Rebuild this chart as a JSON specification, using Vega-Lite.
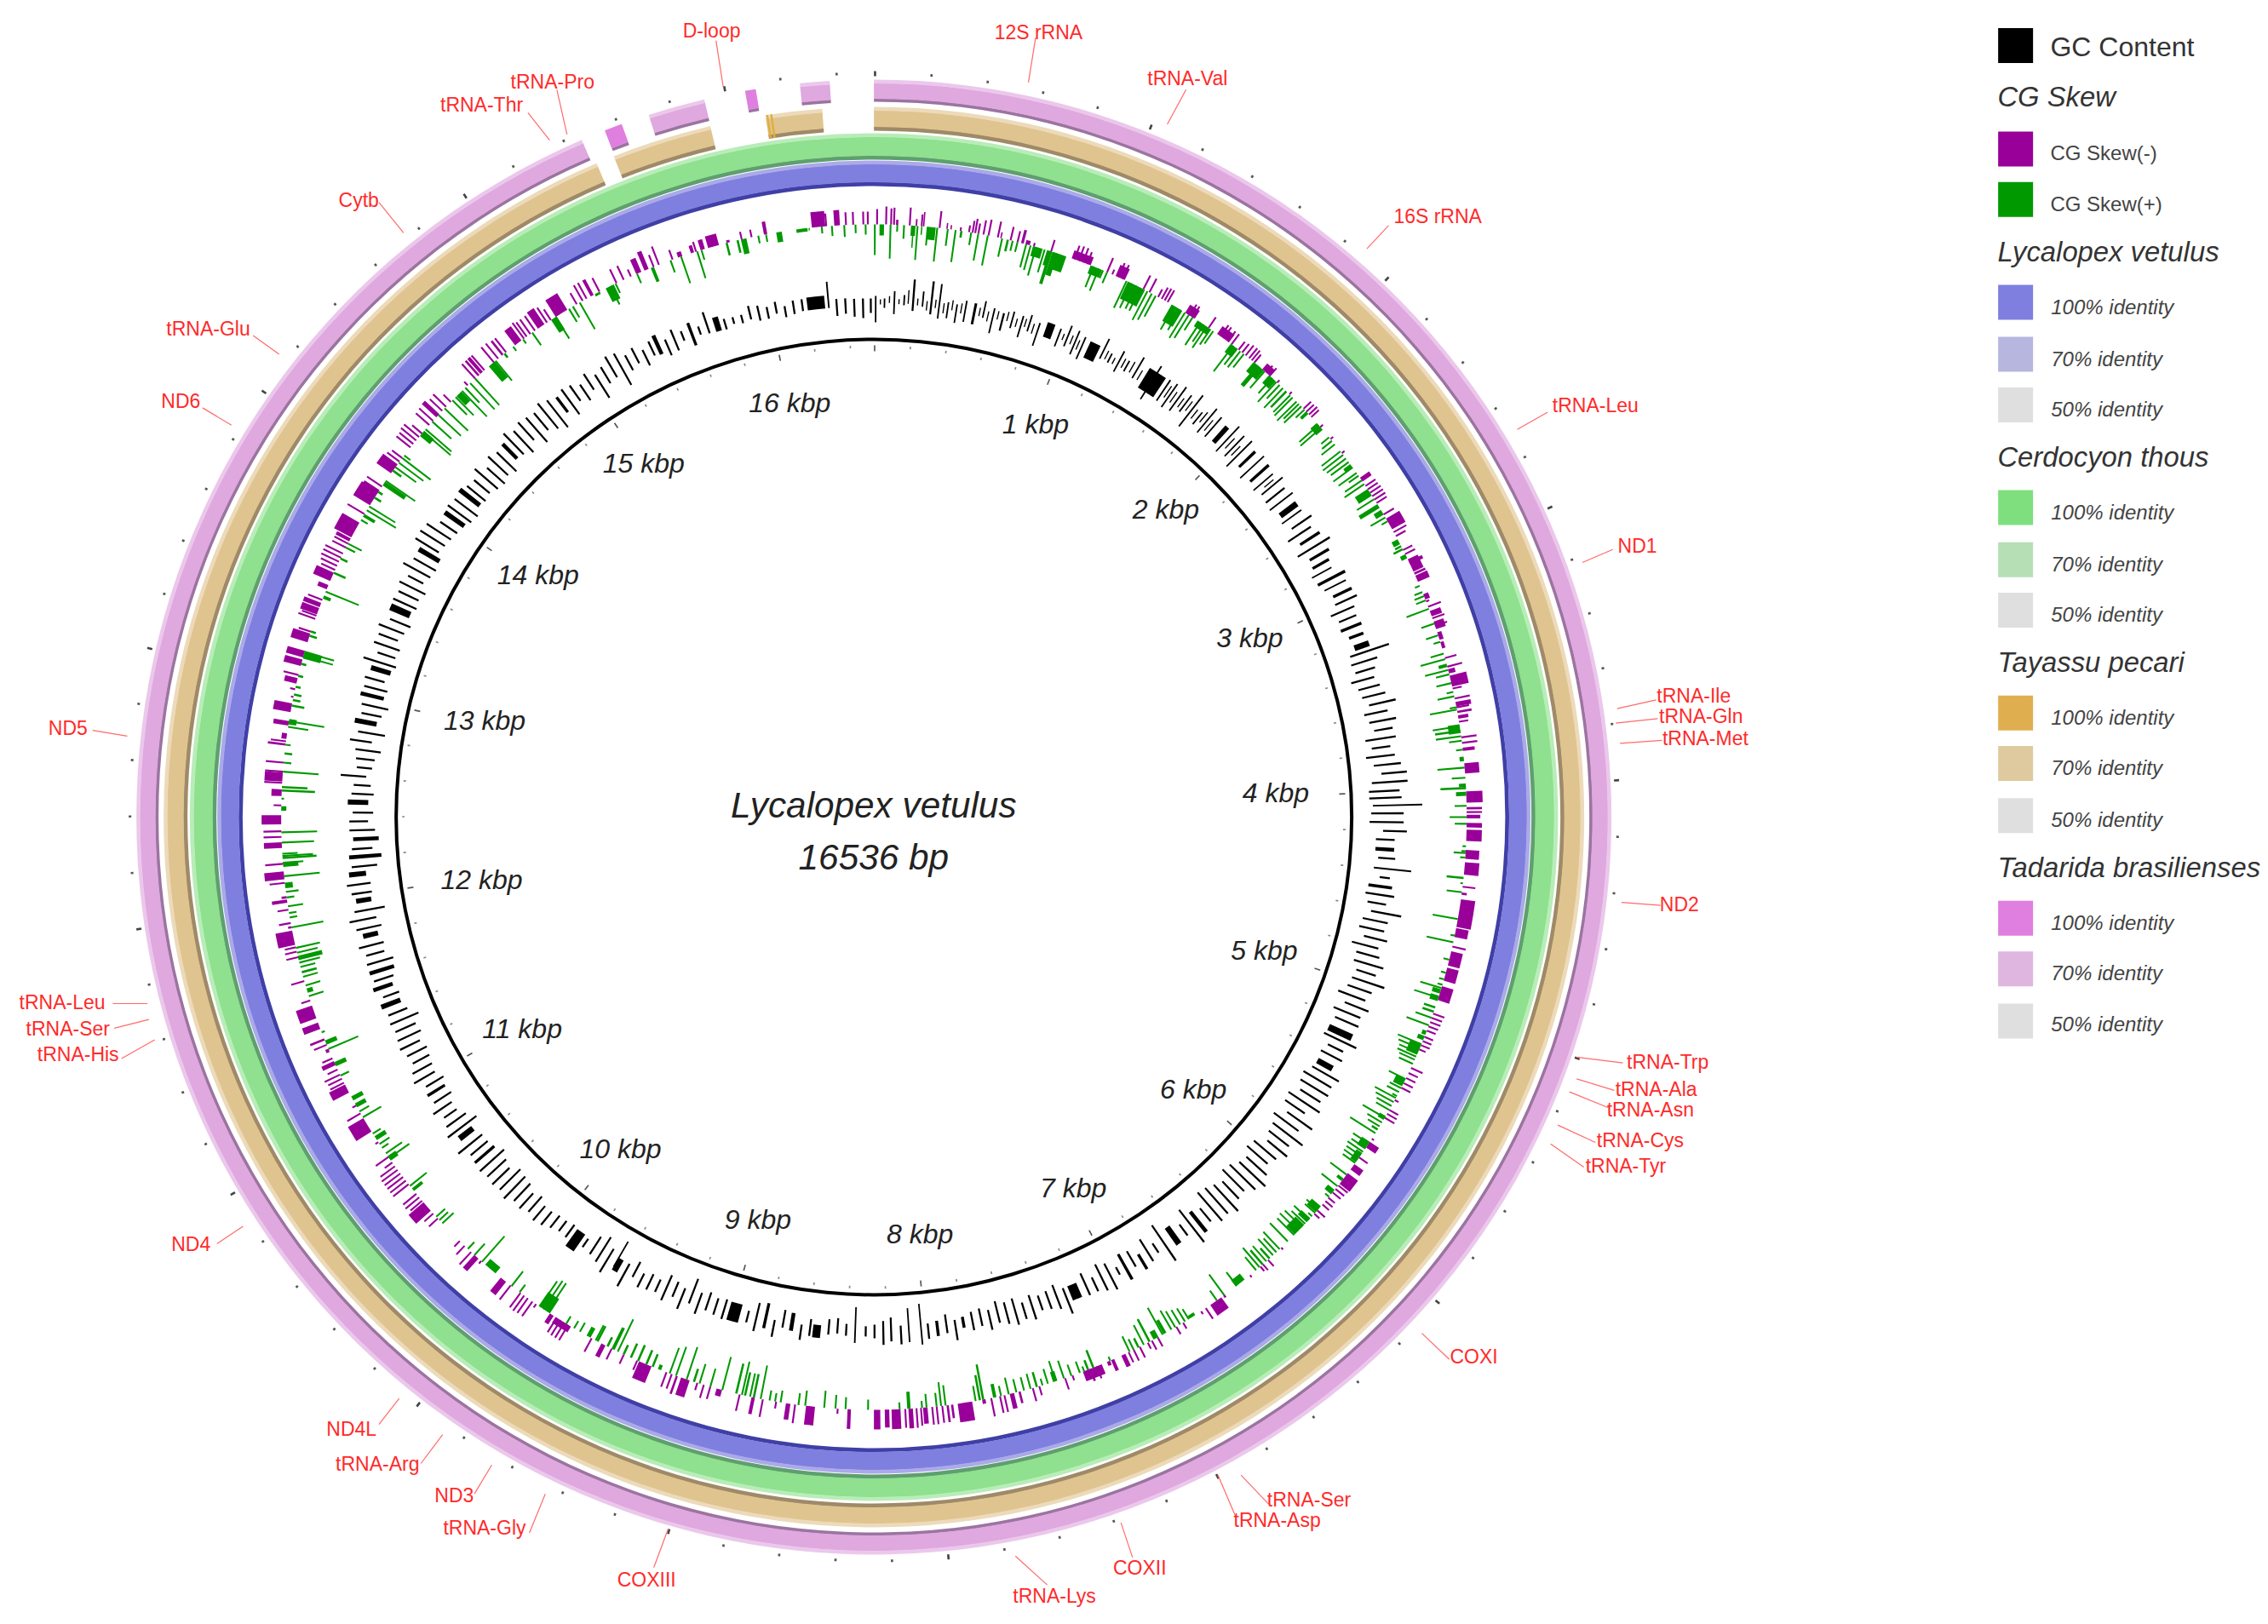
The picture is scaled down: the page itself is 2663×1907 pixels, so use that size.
{"$schema":"https://vega.github.io/schema/vega-lite/v6.json","width":2663,"height":1907,"padding":0,"autosize":{"type":"fit","contains":"padding"},"background":"white","config":{"view":{"stroke":null}},
"datasets":{
"rings":[{"g":"L","s":0,"e":16536},{"g":"C","s":0,"e":16536},{"g":"T","s":0,"e":15480},{"g":"T","s":15549,"e":15924},{"g":"T","s":16132,"e":16344},{"g":"B","s":0,"e":15464},{"g":"B","s":15553,"e":15617},{"g":"B","s":15719,"e":15925},{"g":"B","s":16074,"e":16112},{"g":"B","s":16271,"e":16378}],
"strong":[{"g":"T","s":16135,"e":16143},{"g":"T","s":16150,"e":16158},{"g":"B","s":15553,"e":15617},{"g":"B","s":16074,"e":16112}],
"backbone":[{"s":0,"e":16536}],
"ticks":[{"s":0,"e":8,"k":1},{"s":200,"e":208,"k":0},{"s":400,"e":408,"k":0},{"s":600,"e":608,"k":0},{"s":800,"e":808,"k":0},{"s":1000,"e":1008,"k":1},{"s":1200,"e":1208,"k":0},{"s":1400,"e":1408,"k":0},{"s":1600,"e":1608,"k":0},{"s":1800,"e":1808,"k":0},{"s":2000,"e":2008,"k":1},{"s":2200,"e":2208,"k":0},{"s":2400,"e":2408,"k":0},{"s":2600,"e":2608,"k":0},{"s":2800,"e":2808,"k":0},{"s":3000,"e":3008,"k":1},{"s":3200,"e":3208,"k":0},{"s":3400,"e":3408,"k":0},{"s":3600,"e":3608,"k":0},{"s":3800,"e":3808,"k":0},{"s":4000,"e":4008,"k":1},{"s":4200,"e":4208,"k":0},{"s":4400,"e":4408,"k":0},{"s":4600,"e":4608,"k":0},{"s":4800,"e":4808,"k":0},{"s":5000,"e":5008,"k":1},{"s":5200,"e":5208,"k":0},{"s":5400,"e":5408,"k":0},{"s":5600,"e":5608,"k":0},{"s":5800,"e":5808,"k":0},{"s":6000,"e":6008,"k":1},{"s":6200,"e":6208,"k":0},{"s":6400,"e":6408,"k":0},{"s":6600,"e":6608,"k":0},{"s":6800,"e":6808,"k":0},{"s":7000,"e":7008,"k":1},{"s":7200,"e":7208,"k":0},{"s":7400,"e":7408,"k":0},{"s":7600,"e":7608,"k":0},{"s":7800,"e":7808,"k":0},{"s":8000,"e":8008,"k":1},{"s":8200,"e":8208,"k":0},{"s":8400,"e":8408,"k":0},{"s":8600,"e":8608,"k":0},{"s":8800,"e":8808,"k":0},{"s":9000,"e":9008,"k":1},{"s":9200,"e":9208,"k":0},{"s":9400,"e":9408,"k":0},{"s":9600,"e":9608,"k":0},{"s":9800,"e":9808,"k":0},{"s":10000,"e":10008,"k":1},{"s":10200,"e":10208,"k":0},{"s":10400,"e":10408,"k":0},{"s":10600,"e":10608,"k":0},{"s":10800,"e":10808,"k":0},{"s":11000,"e":11008,"k":1},{"s":11200,"e":11208,"k":0},{"s":11400,"e":11408,"k":0},{"s":11600,"e":11608,"k":0},{"s":11800,"e":11808,"k":0},{"s":12000,"e":12008,"k":1},{"s":12200,"e":12208,"k":0},{"s":12400,"e":12408,"k":0},{"s":12600,"e":12608,"k":0},{"s":12800,"e":12808,"k":0},{"s":13000,"e":13008,"k":1},{"s":13200,"e":13208,"k":0},{"s":13400,"e":13408,"k":0},{"s":13600,"e":13608,"k":0},{"s":13800,"e":13808,"k":0},{"s":14000,"e":14008,"k":1},{"s":14200,"e":14208,"k":0},{"s":14400,"e":14408,"k":0},{"s":14600,"e":14608,"k":0},{"s":14800,"e":14808,"k":0},{"s":15000,"e":15008,"k":1},{"s":15200,"e":15208,"k":0},{"s":15400,"e":15408,"k":0},{"s":15600,"e":15608,"k":0},{"s":15800,"e":15808,"k":0},{"s":16000,"e":16008,"k":1},{"s":16200,"e":16208,"k":0},{"s":16400,"e":16408,"k":0}],
"skew":[
{"s":10,"e":18,"v":-18},{"s":50,"e":58,"v":-21},{"s":72,"e":80,"v":-19},{"s":85,"e":93,"v":-20},{"s":98,"e":108,"v":-6},{"s":155,"e":163,"v":-21},{"s":185,"e":192,"v":-8},{"s":208,"e":216,"v":-14},{"s":218,"e":224,"v":-17},{"s":288,"e":296,"v":-20},{"s":322,"e":328,"v":-7},{"s":340,"e":346,"v":-5},{"s":382,"e":390,"v":-4},{"s":420,"e":428,"v":-8},{"s":436,"e":444,"v":-14},{"s":448,"e":456,"v":-17},{"s":462,"e":470,"v":-12},{"s":485,"e":493,"v":-17},{"s":508,"e":516,"v":-19},{"s":550,"e":558,"v":-19},{"s":565,"e":571,"v":-7},{"s":608,"e":616,"v":-16},{"s":640,"e":648,"v":-13},{"s":660,"e":672,"v":-16},{"s":680,"e":700,"v":-5},{"s":715,"e":723,"v":-4},{"s":795,"e":803,"v":-14},
{"s":0,"e":8,"v":36},{"s":25,"e":45,"v":13},{"s":70,"e":78,"v":40},{"s":100,"e":108,"v":8},{"s":130,"e":138,"v":16},{"s":165,"e":185,"v":12},{"s":172,"e":178,"v":26},{"s":190,"e":198,"v":40},{"s":210,"e":216,"v":10},{"s":240,"e":275,"v":15},{"s":235,"e":243,"v":22},{"s":278,"e":286,"v":40},{"s":325,"e":333,"v":20},{"s":360,"e":368,"v":38},{"s":385,"e":395,"v":8},{"s":430,"e":438,"v":15},{"s":462,"e":470,"v":32},{"s":505,"e":513,"v":36},{"s":570,"e":578,"v":22},{"s":595,"e":605,"v":14},{"s":618,"e":626,"v":12},{"s":640,"e":648,"v":12},{"s":680,"e":688,"v":28},{"s":700,"e":708,"v":30},{"s":715,"e":760,"v":12},{"s":725,"e":733,"v":35},{"s":765,"e":773,"v":28},{"s":780,"e":800,"v":18},{"s":790,"e":805,"v":40},{"s":805,"e":830,"v":28},{"s":812,"e":870,"v":20},
{"s":895,"e":985,"v":-10},{"s":905,"e":913,"v":-17},{"s":925,"e":933,"v":-18},{"s":945,"e":953,"v":-18},{"s":965,"e":973,"v":-15},{"s":985,"e":1040,"v":10},{"s":995,"e":1003,"v":26},{"s":1020,"e":1028,"v":28},{"s":1040,"e":1048,"v":10},{"s":1060,"e":1068,"v":14},{"s":1060,"e":1068,"v":-18},{"s":1085,"e":1093,"v":-6},{"s":1105,"e":1150,"v":-14},{"s":1115,"e":1123,"v":-18},{"s":1135,"e":1143,"v":-18},{"s":1165,"e":1250,"v":22},{"s":1155,"e":1163,"v":35},{"s":1180,"e":1188,"v":32},{"s":1205,"e":1213,"v":30},{"s":1225,"e":1233,"v":30},{"s":1258,"e":1266,"v":38},{"s":1238,"e":1246,"v":-18},{"s":1268,"e":1276,"v":-18},{"s":1312,"e":1320,"v":-10},{"s":1330,"e":1338,"v":-15},{"s":1345,"e":1353,"v":-16},{"s":1360,"e":1368,"v":-16},{"s":1280,"e":1288,"v":35},{"s":1300,"e":1308,"v":28},{"s":1385,"e":1440,"v":22},{"s":1395,"e":1403,"v":32},{"s":1425,"e":1433,"v":28},{"s":1450,"e":1458,"v":35},{"s":1470,"e":1478,"v":32},{"s":1490,"e":1498,"v":18},{"s":1455,"e":1505,"v":-11},{"s":1475,"e":1483,"v":-15},{"s":1490,"e":1498,"v":-15},{"s":1575,"e":1583,"v":-15},{"s":1520,"e":1590,"v":8},{"s":1530,"e":1538,"v":32},{"s":1550,"e":1558,"v":24},{"s":1565,"e":1573,"v":30},{"s":1585,"e":1593,"v":22},{"s":1600,"e":1608,"v":18},{"s":1625,"e":1690,"v":-11},{"s":1640,"e":1648,"v":-16},{"s":1655,"e":1663,"v":-16},{"s":1680,"e":1688,"v":-15},{"s":1700,"e":1708,"v":-15},{"s":1700,"e":1740,"v":12},{"s":1710,"e":1718,"v":38},{"s":1730,"e":1738,"v":24},{"s":1750,"e":1758,"v":24},{"s":1770,"e":1778,"v":20},{"s":1740,"e":1748,"v":-12},{"s":1760,"e":1768,"v":-13},{"s":1780,"e":1788,"v":-15},{"s":1800,"e":1808,"v":-15},{"s":1815,"e":1823,"v":-15},{"s":1830,"e":1838,"v":-12},{"s":1830,"e":1890,"v":14},{"s":1850,"e":1870,"v":30},{"s":1890,"e":1898,"v":26},{"s":1880,"e":1925,"v":-9},{"s":1900,"e":1908,"v":-11},{"s":1920,"e":1928,"v":-12},{"s":1920,"e":1960,"v":12},{"s":1935,"e":1943,"v":24},{"s":1960,"e":1968,"v":32},{"s":1980,"e":1988,"v":22},{"s":2000,"e":2008,"v":32},{"s":2020,"e":2030,"v":26},{"s":2045,"e":2053,"v":28},{"s":2060,"e":2068,"v":30},{"s":2085,"e":2093,"v":32},{"s":1965,"e":1973,"v":-4},{"s":2040,"e":2048,"v":-4},
{"s":2130,"e":2138,"v":-12},{"s":2148,"e":2156,"v":-12},{"s":2165,"e":2173,"v":-13},{"s":2180,"e":2188,"v":-12},{"s":2100,"e":2108,"v":25},{"s":2115,"e":2123,"v":28},{"s":2135,"e":2143,"v":14},{"s":2150,"e":2165,"v":10},{"s":2220,"e":2260,"v":10},{"s":2228,"e":2236,"v":30},{"s":2245,"e":2253,"v":32},{"s":2240,"e":2248,"v":-4},{"s":2300,"e":2308,"v":12},{"s":2320,"e":2328,"v":15},{"s":2340,"e":2348,"v":20},{"s":2310,"e":2318,"v":-4},{"s":2380,"e":2388,"v":28},{"s":2400,"e":2408,"v":30},{"s":2420,"e":2428,"v":28},{"s":2440,"e":2448,"v":26},{"s":2455,"e":2475,"v":10},{"s":2470,"e":2478,"v":28},{"s":2390,"e":2398,"v":-4},{"s":2500,"e":2508,"v":26},{"s":2515,"e":2523,"v":14},{"s":2530,"e":2550,"v":-13},{"s":2570,"e":2578,"v":-14},{"s":2588,"e":2596,"v":-14},{"s":2606,"e":2614,"v":-15},{"s":2624,"e":2632,"v":-15},{"s":2642,"e":2650,"v":-15},{"s":2660,"e":2668,"v":-14},{"s":2590,"e":2625,"v":18},{"s":2560,"e":2568,"v":28},{"s":2540,"e":2548,"v":24},{"s":2640,"e":2648,"v":24},{"s":2670,"e":2690,"v":26},{"s":2700,"e":2725,"v":10},{"s":2735,"e":2743,"v":20},{"s":2755,"e":2763,"v":8},{"s":2720,"e":2728,"v":-14},{"s":2745,"e":2800,"v":-18},{"s":2810,"e":2818,"v":-17},{"s":2830,"e":2838,"v":-13},{"s":2850,"e":2875,"v":8},{"s":2880,"e":2890,"v":8},{"s":2895,"e":2905,"v":12},{"s":2925,"e":2945,"v":7},{"s":2900,"e":2908,"v":-12},{"s":2920,"e":2928,"v":-13},{"s":2950,"e":3010,"v":-13},{"s":2960,"e":2975,"v":-17},{"s":3015,"e":3025,"v":-14},{"s":3030,"e":3060,"v":-15},{"s":3075,"e":3083,"v":6},{"s":3105,"e":3113,"v":10},{"s":3125,"e":3133,"v":12},{"s":3145,"e":3153,"v":12},{"s":3120,"e":3145,"v":-6},{"s":3150,"e":3158,"v":-4},{"s":3185,"e":3193,"v":28},{"s":3175,"e":3183,"v":-16},{"s":3200,"e":3225,"v":-13},{"s":3230,"e":3238,"v":-15},{"s":3250,"e":3285,"v":-12},{"s":3265,"e":3273,"v":-15},{"s":3255,"e":3263,"v":16},{"s":3310,"e":3318,"v":15},{"s":3340,"e":3348,"v":8},{"s":3300,"e":3335,"v":-5},{"s":3345,"e":3375,"v":-4},{"s":3395,"e":3403,"v":16},{"s":3420,"e":3428,"v":30},{"s":3445,"e":3460,"v":10},{"s":3470,"e":3478,"v":28},{"s":3415,"e":3423,"v":-14},{"s":3455,"e":3463,"v":-18},{"s":3470,"e":3490,"v":-8},{"s":3490,"e":3498,"v":16},{"s":3530,"e":3538,"v":18},{"s":3500,"e":3550,"v":-20},{"s":3555,"e":3563,"v":-11},{"s":3590,"e":3598,"v":20},{"s":3570,"e":3578,"v":8},{"s":3600,"e":3608,"v":-18},{"s":3620,"e":3640,"v":-18},{"s":3640,"e":3648,"v":-15},{"s":3650,"e":3658,"v":32},{"s":3640,"e":3648,"v":8},{"s":3660,"e":3670,"v":-17},{"s":3680,"e":3695,"v":-12},{"s":3705,"e":3713,"v":-11},{"s":3720,"e":3760,"v":14},{"s":3725,"e":3733,"v":32},{"s":3745,"e":3755,"v":30},{"s":3770,"e":3778,"v":30},{"s":3790,"e":3798,"v":15},{"s":3775,"e":3783,"v":-18},{"s":3800,"e":3808,"v":-18},{"s":3825,"e":3840,"v":-14},{"s":3830,"e":3838,"v":8},{"s":3865,"e":3885,"v":5},{"s":3910,"e":3918,"v":32},{"s":3895,"e":3940,"v":-17},{"s":3955,"e":3963,"v":16},{"s":3985,"e":4000,"v":8},{"s":4000,"e":4010,"v":30},{"s":4020,"e":4070,"v":-19},{"s":4022,"e":4040,"v":12},{"s":4080,"e":4088,"v":14},{"s":4090,"e":4100,"v":-18},{"s":4108,"e":4116,"v":-18},{"s":4124,"e":4140,"v":-16},{"s":4130,"e":4138,"v":20},{"s":4160,"e":4168,"v":14},{"s":4160,"e":4180,"v":-18},{"s":4190,"e":4240,"v":-18},{"s":4260,"e":4268,"v":4},{"s":4282,"e":4290,"v":5},{"s":4290,"e":4298,"v":14},{"s":4310,"e":4318,"v":6},{"s":4280,"e":4320,"v":-16},{"s":4335,"e":4390,"v":-17},{"s":4400,"e":4410,"v":20},{"s":4425,"e":4433,"v":3},{"s":4440,"e":4448,"v":-15},{"s":4470,"e":4480,"v":-6},{"s":4465,"e":4473,"v":18},{"s":4500,"e":4625,"v":-17},{"s":4630,"e":4670,"v":-15},{"s":4585,"e":4593,"v":30},{"s":4690,"e":4698,"v":32},{"s":4710,"e":4718,"v":-16},{"s":4660,"e":4668,"v":5},{"s":4770,"e":4778,"v":7},{"s":4735,"e":4800,"v":-14},{"s":4810,"e":4870,"v":-14},{"s":4830,"e":4838,"v":6},{"s":4860,"e":4868,"v":6},{"s":4885,"e":4893,"v":6},{"s":4910,"e":4930,"v":10},{"s":4900,"e":4908,"v":26},{"s":4895,"e":4960,"v":-14},{"s":4990,"e":5000,"v":14},{"s":5010,"e":5020,"v":14},{"s":4940,"e":4965,"v":10},{"s":4945,"e":4953,"v":30},
{"s":5040,"e":5048,"v":20},{"s":5020,"e":5028,"v":-14},{"s":5040,"e":5048,"v":-13},{"s":5060,"e":5068,"v":-13},{"s":5080,"e":5088,"v":-12},{"s":5100,"e":5108,"v":-11},{"s":5075,"e":5083,"v":28},{"s":5105,"e":5125,"v":5},{"s":5130,"e":5150,"v":8},{"s":5130,"e":5138,"v":-11},{"s":5150,"e":5158,"v":-11},{"s":5170,"e":5178,"v":-11},{"s":5190,"e":5198,"v":-8},{"s":5170,"e":5220,"v":14},{"s":5165,"e":5173,"v":30},{"s":5185,"e":5193,"v":27},{"s":5205,"e":5213,"v":24},{"s":5225,"e":5233,"v":24},{"s":5240,"e":5248,"v":20},{"s":5260,"e":5268,"v":18},{"s":5280,"e":5288,"v":-15},{"s":5305,"e":5313,"v":-12},{"s":5330,"e":5338,"v":-12},{"s":5355,"e":5363,"v":-12},{"s":5378,"e":5386,"v":-12},{"s":5340,"e":5375,"v":12},{"s":5335,"e":5343,"v":22},{"s":5380,"e":5388,"v":15},{"s":5400,"e":5408,"v":16},{"s":5420,"e":5428,"v":6},{"s":5440,"e":5448,"v":-5},{"s":5430,"e":5438,"v":28},{"s":5450,"e":5458,"v":24},{"s":5470,"e":5478,"v":20},{"s":5490,"e":5498,"v":18},{"s":5490,"e":5498,"v":-12},{"s":5510,"e":5518,"v":-13},{"s":5530,"e":5538,"v":-13},{"s":5525,"e":5545,"v":8},{"s":5530,"e":5538,"v":30},{"s":5555,"e":5563,"v":20},{"s":5575,"e":5583,"v":16},{"s":5590,"e":5600,"v":8},{"s":5610,"e":5618,"v":35},{"s":5640,"e":5648,"v":-3},{"s":5660,"e":5690,"v":-13},{"s":5660,"e":5700,"v":11},{"s":5665,"e":5673,"v":22},{"s":5690,"e":5698,"v":20},{"s":5710,"e":5718,"v":22},{"s":5720,"e":5770,"v":8},{"s":5730,"e":5738,"v":20},{"s":5750,"e":5758,"v":20},{"s":5770,"e":5778,"v":18},{"s":5740,"e":5748,"v":-12},{"s":5780,"e":5810,"v":-13},{"s":5835,"e":5843,"v":24},{"s":5860,"e":5875,"v":8},{"s":5830,"e":5890,"v":-15},{"s":5895,"e":5903,"v":-14},{"s":5915,"e":5923,"v":-13},{"s":5935,"e":5943,"v":-12},{"s":5900,"e":5908,"v":24},{"s":5925,"e":5950,"v":10},{"s":5960,"e":5968,"v":6},{"s":5965,"e":5973,"v":-10},{"s":5985,"e":5993,"v":-11},{"s":6005,"e":6013,"v":-10},{"s":6040,"e":6048,"v":-12},{"s":6060,"e":6068,"v":-8},{"s":6020,"e":6055,"v":14},{"s":6035,"e":6043,"v":18},{"s":6055,"e":6063,"v":16},{"s":6075,"e":6083,"v":6},{"s":6090,"e":6115,"v":14},{"s":6095,"e":6103,"v":24},{"s":6120,"e":6128,"v":22},{"s":6130,"e":6190,"v":14},{"s":6140,"e":6148,"v":28},{"s":6165,"e":6173,"v":30},{"s":6190,"e":6198,"v":28},{"s":6270,"e":6278,"v":-3},{"s":6230,"e":6238,"v":30},{"s":6280,"e":6288,"v":28},{"s":6300,"e":6308,"v":22},{"s":6320,"e":6328,"v":26},{"s":6340,"e":6350,"v":16},{"s":6360,"e":6368,"v":24},{"s":6380,"e":6390,"v":22},{"s":6400,"e":6408,"v":30},{"s":6420,"e":6428,"v":20},{"s":6350,"e":6358,"v":-10},{"s":6380,"e":6388,"v":-9},{"s":6395,"e":6403,"v":-7},{"s":6455,"e":6463,"v":-3},{"s":6490,"e":6540,"v":9},{"s":6530,"e":6538,"v":20},{"s":6600,"e":6608,"v":30},{"s":6640,"e":6648,"v":14},{"s":6620,"e":6680,"v":-15},{"s":6600,"e":6610,"v":-3},{"s":6700,"e":6708,"v":-15},{"s":6725,"e":6733,"v":-4},{"s":6760,"e":6790,"v":4},{"s":6790,"e":6798,"v":14},{"s":6810,"e":6818,"v":18},{"s":6835,"e":6843,"v":20},{"s":6860,"e":6868,"v":22},{"s":6880,"e":6888,"v":26},{"s":6910,"e":6925,"v":18},{"s":6925,"e":6933,"v":36},{"s":6950,"e":6975,"v":10},{"s":6990,"e":7000,"v":30},{"s":6820,"e":6828,"v":-8},{"s":6855,"e":6863,"v":-10},{"s":6950,"e":6958,"v":-12},{"s":6980,"e":6988,"v":-12},{"s":7000,"e":7008,"v":-8},{"s":7020,"e":7028,"v":26},{"s":7045,"e":7055,"v":12},{"s":7070,"e":7078,"v":14},{"s":7090,"e":7098,"v":20},{"s":7070,"e":7078,"v":-14},{"s":7040,"e":7048,"v":-14},{"s":7095,"e":7103,"v":-13},{"s":7115,"e":7135,"v":-15},{"s":7170,"e":7185,"v":-14},{"s":7190,"e":7205,"v":-5},{"s":7185,"e":7193,"v":5},{"s":7265,"e":7275,"v":22},{"s":7290,"e":7300,"v":12},{"s":7230,"e":7320,"v":-12},{"s":7250,"e":7258,"v":-15},{"s":7280,"e":7290,"v":-15},{"s":7330,"e":7338,"v":14},{"s":7310,"e":7318,"v":6},{"s":7370,"e":7378,"v":14},{"s":7405,"e":7413,"v":22},{"s":7440,"e":7460,"v":12},{"s":7445,"e":7453,"v":25},{"s":7480,"e":7488,"v":18},{"s":7505,"e":7513,"v":8},{"s":7400,"e":7408,"v":-14},{"s":7365,"e":7373,"v":-6},
{"s":7530,"e":7540,"v":18},{"s":7560,"e":7568,"v":18},{"s":7590,"e":7598,"v":16},{"s":7625,"e":7633,"v":16},{"s":7660,"e":7668,"v":20},{"s":7695,"e":7703,"v":12},{"s":7720,"e":7735,"v":16},{"s":7775,"e":7785,"v":42},{"s":7790,"e":7800,"v":30},{"s":7810,"e":7818,"v":18},{"s":7520,"e":7528,"v":-11},{"s":7550,"e":7558,"v":-16},{"s":7610,"e":7620,"v":-14},{"s":7640,"e":7660,"v":-18},{"s":7680,"e":7688,"v":-20},{"s":7700,"e":7708,"v":-20},{"s":7740,"e":7748,"v":-22},{"s":7770,"e":7785,"v":-5},{"s":7830,"e":7895,"v":-22},{"s":7915,"e":7925,"v":-16},{"s":7935,"e":7945,"v":-20},{"s":7960,"e":7968,"v":-20},{"s":7985,"e":7993,"v":-21},{"s":8005,"e":8013,"v":-21},{"s":8030,"e":8050,"v":-19},{"s":8055,"e":8063,"v":-21},{"s":8075,"e":8083,"v":-23},{"s":8095,"e":8115,"v":-23},{"s":8125,"e":8133,"v":-22},{"s":8150,"e":8190,"v":-23},{"s":8200,"e":8220,"v":-21},{"s":8240,"e":8268,"v":-23},{"s":7945,"e":7953,"v":24},{"s":7965,"e":7973,"v":28},{"s":7985,"e":7993,"v":16},{"s":8030,"e":8038,"v":16},{"s":8050,"e":8058,"v":8},{"s":8105,"e":8120,"v":20},{"s":8150,"e":8158,"v":8},{"s":8290,"e":8298,"v":12},{"s":8390,"e":8398,"v":14},{"s":8435,"e":8443,"v":16},{"s":8485,"e":8493,"v":20},{"s":8570,"e":8578,"v":18},{"s":8600,"e":8608,"v":14},{"s":8680,"e":8688,"v":14},{"s":8705,"e":8713,"v":10},{"s":8730,"e":8738,"v":12},{"s":8370,"e":8385,"v":-23},{"s":8425,"e":8433,"v":-6},{"s":8530,"e":8570,"v":-22},{"s":8615,"e":8623,"v":-22},{"s":8640,"e":8660,"v":-19},{"s":8700,"e":8708,"v":-8},{"s":8760,"e":8768,"v":-21},{"s":8800,"e":8815,"v":-20},{"s":8865,"e":8873,"v":-20},{"s":8770,"e":8778,"v":40},{"s":8800,"e":8810,"v":28},{"s":8818,"e":8826,"v":28},{"s":8840,"e":8850,"v":28},{"s":8855,"e":8863,"v":40},{"s":8880,"e":8890,"v":36},{"s":8945,"e":8953,"v":40},{"s":9000,"e":9008,"v":22},{"s":9050,"e":9058,"v":24},{"s":9075,"e":9085,"v":16},{"s":8950,"e":8975,"v":-8},{"s":9000,"e":9008,"v":-15},{"s":9030,"e":9038,"v":-16},{"s":9060,"e":9068,"v":-9},{"s":9100,"e":9140,"v":-21},{"s":9155,"e":9165,"v":-22},{"s":9180,"e":9188,"v":-18},{"s":9205,"e":9213,"v":-18},{"s":9110,"e":9118,"v":40},{"s":9160,"e":9168,"v":36},{"s":9190,"e":9198,"v":32},{"s":9235,"e":9250,"v":6},{"s":9270,"e":9280,"v":16},{"s":9280,"e":9340,"v":-21},{"s":9345,"e":9353,"v":-12},{"s":9410,"e":9418,"v":-12},{"s":9300,"e":9310,"v":18},{"s":9340,"e":9350,"v":20},{"s":9375,"e":9385,"v":18},{"s":9410,"e":9420,"v":12},{"s":9470,"e":9478,"v":-14},{"s":9505,"e":9525,"v":-16},{"s":9570,"e":9578,"v":-18},{"s":9440,"e":9448,"v":42},{"s":9460,"e":9475,"v":28},{"s":9490,"e":9500,"v":12},{"s":9540,"e":9550,"v":20},{"s":9550,"e":9558,"v":20},{"s":9580,"e":9600,"v":12},{"s":9630,"e":9638,"v":12},{"s":9660,"e":9668,"v":10},{"s":9700,"e":9708,"v":10},{"s":9690,"e":9698,"v":-21},{"s":9710,"e":9718,"v":-21},{"s":9730,"e":9738,"v":-21},{"s":9750,"e":9758,"v":-20},{"s":9770,"e":9790,"v":-12},{"s":9680,"e":9760,"v":-8},
{"s":9790,"e":9850,"v":20},{"s":9800,"e":9808,"v":40},{"s":9820,"e":9828,"v":40},{"s":9840,"e":9848,"v":36},{"s":9860,"e":9868,"v":-5},{"s":9880,"e":9888,"v":-21},{"s":9905,"e":9913,"v":-21},{"s":9925,"e":9933,"v":-22},{"s":9945,"e":9953,"v":-21},{"s":9950,"e":9958,"v":11},{"s":9995,"e":10003,"v":22},{"s":10000,"e":10008,"v":-21},{"s":10030,"e":10060,"v":-20},{"s":10090,"e":10150,"v":9},{"s":10165,"e":10173,"v":40},{"s":10210,"e":10218,"v":18},{"s":10250,"e":10258,"v":11},{"s":10170,"e":10178,"v":-4},{"s":10190,"e":10215,"v":-20},{"s":10230,"e":10238,"v":-20},{"s":10270,"e":10278,"v":-14},{"s":10300,"e":10308,"v":-9},{"s":10410,"e":10418,"v":18},{"s":10430,"e":10438,"v":14},{"s":10450,"e":10458,"v":14},{"s":10440,"e":10448,"v":-14},{"s":10470,"e":10478,"v":-14},{"s":10490,"e":10540,"v":-23},{"s":10545,"e":10553,"v":-18},{"s":10565,"e":10573,"v":-21},{"s":10585,"e":10593,"v":-20},{"s":10605,"e":10620,"v":14},{"s":10630,"e":10638,"v":25},{"s":10640,"e":10648,"v":-23},{"s":10660,"e":10668,"v":-23},{"s":10680,"e":10688,"v":-23},{"s":10700,"e":10708,"v":-23},{"s":10720,"e":10728,"v":-23},{"s":10740,"e":10748,"v":-21},{"s":10760,"e":10768,"v":-11},{"s":10775,"e":10800,"v":11},{"s":10785,"e":10793,"v":29},{"s":10810,"e":10818,"v":23},{"s":10840,"e":10848,"v":9},{"s":10860,"e":10868,"v":14},{"s":10790,"e":10798,"v":-18},{"s":10870,"e":10878,"v":-4},{"s":10885,"e":10905,"v":14},{"s":10915,"e":10923,"v":11},{"s":10930,"e":11000,"v":-21},{"s":11000,"e":11008,"v":25},{"s":11030,"e":11038,"v":13},{"s":11055,"e":11075,"v":13},{"s":11020,"e":11028,"v":-18},{"s":11060,"e":11068,"v":-5},{"s":11090,"e":11110,"v":14},{"s":11130,"e":11170,"v":-21},{"s":11175,"e":11183,"v":-18},{"s":11195,"e":11203,"v":-18},{"s":11215,"e":11223,"v":-20},{"s":11240,"e":11248,"v":-13},{"s":11210,"e":11218,"v":11},{"s":11260,"e":11280,"v":14},{"s":11265,"e":11285,"v":-16},{"s":11295,"e":11303,"v":-13},{"s":11340,"e":11348,"v":38},{"s":11365,"e":11385,"v":14},{"s":11420,"e":11428,"v":4},{"s":11330,"e":11345,"v":-4},{"s":11360,"e":11368,"v":-16},{"s":11385,"e":11395,"v":-18},{"s":11440,"e":11470,"v":-20},{"s":11490,"e":11550,"v":-20},{"s":11570,"e":11578,"v":-11},{"s":11590,"e":11598,"v":18},{"s":11610,"e":11630,"v":7},{"s":11640,"e":11648,"v":18},{"s":11680,"e":11688,"v":18},{"s":11660,"e":11668,"v":-16},{"s":11700,"e":11710,"v":18},{"s":11725,"e":11733,"v":18},{"s":11760,"e":11780,"v":29},{"s":11745,"e":11753,"v":25},{"s":11790,"e":11798,"v":25},{"s":11812,"e":11820,"v":29},{"s":11770,"e":11778,"v":-14},{"s":11795,"e":11803,"v":-14},{"s":11815,"e":11823,"v":-13},{"s":11830,"e":11895,"v":-20},{"s":11905,"e":11913,"v":38},{"s":11925,"e":11933,"v":-14},{"s":11905,"e":11915,"v":-4},{"s":11950,"e":11958,"v":9},{"s":11970,"e":11978,"v":9},{"s":12000,"e":12008,"v":18},{"s":11985,"e":11993,"v":-13},
{"s":12020,"e":12035,"v":-18},{"s":12040,"e":12050,"v":-6},{"s":12040,"e":12048,"v":9},{"s":12065,"e":12073,"v":15},{"s":12085,"e":12110,"v":9},{"s":12105,"e":12113,"v":-18},{"s":12135,"e":12143,"v":42},{"s":12125,"e":12160,"v":-23},{"s":12180,"e":12200,"v":18},{"s":12195,"e":12203,"v":24},{"s":12215,"e":12225,"v":40},{"s":12235,"e":12243,"v":18},{"s":12190,"e":12198,"v":-21},{"s":12225,"e":12233,"v":36},{"s":12285,"e":12293,"v":38},{"s":12265,"e":12290,"v":-21},{"s":12310,"e":12318,"v":-21},{"s":12335,"e":12343,"v":-21},{"s":12330,"e":12338,"v":42},{"s":12370,"e":12410,"v":-23},{"s":12450,"e":12458,"v":-9},{"s":12430,"e":12450,"v":6},{"s":12480,"e":12488,"v":3},{"s":12495,"e":12525,"v":-12},{"s":12515,"e":12525,"v":39},{"s":12530,"e":12540,"v":30},{"s":12550,"e":12558,"v":-21},{"s":12560,"e":12600,"v":-21},{"s":12600,"e":12608,"v":-21},{"s":12640,"e":12648,"v":-21},{"s":12600,"e":12608,"v":42},{"s":12640,"e":12648,"v":9},{"s":12680,"e":12690,"v":9},{"s":12720,"e":12730,"v":-21},{"s":12735,"e":12743,"v":-18},{"s":12720,"e":12728,"v":6},{"s":12750,"e":12775,"v":-6},{"s":12800,"e":12808,"v":24},{"s":12810,"e":12830,"v":-18},{"s":12815,"e":12840,"v":9},{"s":12825,"e":12833,"v":42},{"s":12870,"e":12910,"v":-21},{"s":12895,"e":12905,"v":15},{"s":12920,"e":12930,"v":9},{"s":12935,"e":12943,"v":-3},{"s":12945,"e":12955,"v":9},{"s":12980,"e":12990,"v":6},{"s":13030,"e":13040,"v":6},{"s":13000,"e":13025,"v":-15},{"s":13035,"e":13043,"v":-18},{"s":12970,"e":12978,"v":-6},{"s":13080,"e":13110,"v":-21},{"s":13120,"e":13150,"v":-21},{"s":13115,"e":13150,"v":21},{"s":13120,"e":13128,"v":36},{"s":13140,"e":13148,"v":36},{"s":13085,"e":13095,"v":6},{"s":13190,"e":13230,"v":-21},{"s":13235,"e":13243,"v":-15},{"s":13215,"e":13225,"v":9},{"s":13235,"e":13245,"v":6},{"s":13295,"e":13303,"v":-21},{"s":13310,"e":13318,"v":-18},{"s":13320,"e":13350,"v":-21},{"s":13355,"e":13375,"v":-21},{"s":13385,"e":13393,"v":-18},{"s":13395,"e":13410,"v":9},{"s":13425,"e":13433,"v":42},{"s":13440,"e":13460,"v":-12},{"s":13480,"e":13520,"v":-22},{"s":13530,"e":13538,"v":-18},{"s":13550,"e":13558,"v":-21},{"s":13570,"e":13578,"v":-23},{"s":13590,"e":13598,"v":-23},{"s":13610,"e":13618,"v":-23},{"s":13515,"e":13525,"v":15},{"s":13585,"e":13595,"v":9},{"s":13640,"e":13648,"v":12},{"s":13660,"e":13668,"v":18},{"s":13640,"e":13648,"v":-18},{"s":13660,"e":13668,"v":-18},{"s":13675,"e":13690,"v":-18},{"s":13695,"e":13770,"v":-23},{"s":13780,"e":13788,"v":9},{"s":13800,"e":13815,"v":15},{"s":13830,"e":13838,"v":40},{"s":13850,"e":13858,"v":36},{"s":13810,"e":13818,"v":-23},{"s":13860,"e":13930,"v":-23},{"s":13920,"e":13940,"v":-21},{"s":13955,"e":13963,"v":-21},{"s":13895,"e":13905,"v":9},{"s":13925,"e":13935,"v":6},{"s":13965,"e":13985,"v":30},{"s":13985,"e":13993,"v":42},{"s":14030,"e":14080,"v":-21},{"s":14090,"e":14098,"v":-18},{"s":14110,"e":14118,"v":-15},{"s":14040,"e":14050,"v":12},{"s":14060,"e":14068,"v":30},{"s":14085,"e":14093,"v":36},{"s":14110,"e":14118,"v":42},{"s":14125,"e":14133,"v":9},{"s":14170,"e":14178,"v":-21},{"s":14190,"e":14198,"v":-21},{"s":14210,"e":14218,"v":-23},{"s":14230,"e":14238,"v":-23},{"s":14250,"e":14258,"v":-15},{"s":14240,"e":14270,"v":15},{"s":14275,"e":14283,"v":40},{"s":14260,"e":14268,"v":42},{"s":14300,"e":14308,"v":-21},{"s":14325,"e":14333,"v":-22},{"s":14350,"e":14370,"v":-23},{"s":14385,"e":14393,"v":-20},{"s":14410,"e":14418,"v":-21},{"s":14320,"e":14328,"v":30},{"s":14360,"e":14368,"v":36},{"s":14400,"e":14408,"v":38},{"s":14480,"e":14510,"v":15},{"s":14510,"e":14518,"v":42},{"s":14530,"e":14538,"v":24},{"s":14560,"e":14568,"v":42},{"s":14590,"e":14598,"v":42},{"s":14440,"e":14448,"v":-12},{"s":14450,"e":14458,"v":24},{"s":14470,"e":14478,"v":30},{"s":14545,"e":14553,"v":-6},{"s":14590,"e":14598,"v":-23},{"s":14610,"e":14620,"v":-23},{"s":14625,"e":14640,"v":-23},{"s":14645,"e":14653,"v":-23},{"s":14675,"e":14710,"v":24},{"s":14710,"e":14718,"v":30},{"s":14700,"e":14708,"v":-23},{"s":14725,"e":14733,"v":-23},{"s":14750,"e":14760,"v":-21},{"s":14770,"e":14778,"v":-21},{"s":14760,"e":14770,"v":6},{"s":14810,"e":14818,"v":6},{"s":14825,"e":14860,"v":-21},{"s":14870,"e":14878,"v":-23},{"s":14885,"e":14893,"v":-21},{"s":14905,"e":14913,"v":-21},{"s":14865,"e":14873,"v":6},{"s":14915,"e":14923,"v":18},{"s":14950,"e":14985,"v":-23},{"s":14930,"e":14938,"v":-21},{"s":14995,"e":15003,"v":-21},{"s":15015,"e":15023,"v":-15},{"s":15020,"e":15050,"v":18},{"s":15040,"e":15048,"v":30},{"s":15045,"e":15105,"v":-23},{"s":15110,"e":15118,"v":18},{"s":15130,"e":15138,"v":15},{"s":15165,"e":15173,"v":36},{"s":15150,"e":15158,"v":-15},{"s":15180,"e":15188,"v":-21},{"s":15200,"e":15208,"v":-21},{"s":15225,"e":15240,"v":-21},{"s":15265,"e":15273,"v":-18},{"s":15245,"e":15270,"v":3},{"s":15300,"e":15340,"v":18},{"s":15320,"e":15328,"v":24},{"s":15345,"e":15353,"v":12},{"s":15350,"e":15358,"v":-18},{"s":15385,"e":15393,"v":-18},{"s":15420,"e":15428,"v":-9},{"s":15450,"e":15475,"v":-18},{"s":15450,"e":15458,"v":12},{"s":15520,"e":15535,"v":18},{"s":15490,"e":15510,"v":-23},{"s":15530,"e":15538,"v":-15},{"s":15555,"e":15563,"v":-23},{"s":15610,"e":15618,"v":15},{"s":15660,"e":15668,"v":33},{"s":15620,"e":15628,"v":-12},{"s":15650,"e":15670,"v":-6},{"s":15710,"e":15725,"v":-9},{"s":15735,"e":15743,"v":33},{"s":15755,"e":15763,"v":12},{"s":15730,"e":15738,"v":-12},{"s":15755,"e":15775,"v":-12},{"s":15790,"e":15840,"v":-14},{"s":15875,"e":15890,"v":-3},{"s":15870,"e":15880,"v":15},{"s":15920,"e":15930,"v":15},{"s":15940,"e":15965,"v":18},{"s":15940,"e":15948,"v":-9},{"s":15985,"e":15993,"v":-9},{"s":16045,"e":16060,"v":-15},{"s":16015,"e":16023,"v":9},{"s":16050,"e":16058,"v":9},{"s":16100,"e":16125,"v":12},{"s":16190,"e":16240,"v":4},{"s":16245,"e":16250,"v":3},{"s":16260,"e":16320,"v":-18},{"s":16320,"e":16328,"v":-15},{"s":16360,"e":16385,"v":-18},{"s":16408,"e":16416,"v":-15},{"s":16440,"e":16448,"v":-15},{"s":16485,"e":16493,"v":-15},{"s":16505,"e":16513,"v":-15},{"s":16300,"e":16308,"v":8},{"s":16345,"e":16353,"v":12},{"s":16400,"e":16408,"v":14},{"s":16450,"e":16458,"v":10},{"s":16495,"e":16503,"v":12}
],
"gc":[
{"s":5,"e":13,"hi":6,"lo":-25},{"s":30,"e":36,"hi":2,"lo":-4},{"s":50,"e":58,"hi":3,"lo":-8},{"s":76,"e":82,"hi":6,"lo":-2},{"s":100,"e":108,"hi":12,"lo":-15},{"s":125,"e":131,"hi":3,"lo":-3},{"s":150,"e":158,"hi":8,"lo":-4},{"s":172,"e":178,"hi":14,"lo":-2},{"s":195,"e":205,"hi":27,"lo":-10},{"s":220,"e":226,"hi":5,"lo":-3},{"s":245,"e":253,"hi":14,"lo":-4},{"s":268,"e":274,"hi":3,"lo":-8},{"s":288,"e":298,"hi":27,"lo":-12},{"s":312,"e":318,"hi":6,"lo":-4},{"s":330,"e":338,"hi":25,"lo":-16},{"s":355,"e":361,"hi":3,"lo":-9},{"s":375,"e":383,"hi":5,"lo":-14},{"s":398,"e":404,"hi":8,"lo":-4},{"s":420,"e":428,"hi":4,"lo":-18},{"s":445,"e":451,"hi":6,"lo":-6},{"s":465,"e":473,"hi":10,"lo":-15},{"s":510,"e":523,"hi":9,"lo":-16},{"s":540,"e":546,"hi":5,"lo":-5},{"s":560,"e":568,"hi":14,"lo":-6},{"s":585,"e":591,"hi":3,"lo":-9},{"s":610,"e":618,"hi":8,"lo":-22},{"s":635,"e":641,"hi":6,"lo":-4},{"s":660,"e":670,"hi":5,"lo":-16},{"s":685,"e":691,"hi":8,"lo":-3},{"s":710,"e":718,"hi":10,"lo":-10},{"s":735,"e":741,"hi":3,"lo":-7},{"s":760,"e":768,"hi":8,"lo":-18},{"s":780,"e":786,"hi":6,"lo":-4},{"s":800,"e":808,"hi":12,"lo":-8},{"s":825,"e":831,"hi":3,"lo":-9},{"s":850,"e":858,"hi":6,"lo":-22},{"s":890,"e":930,"hi":10,"lo":-8},{"s":960,"e":968,"hi":8,"lo":-14},{"s":985,"e":991,"hi":4,"lo":-4},{"s":1005,"e":1013,"hi":16,"lo":-10},{"s":1030,"e":1036,"hi":6,"lo":-5},{"s":1050,"e":1058,"hi":14,"lo":-16},{"s":1070,"e":1076,"hi":4,"lo":-8},{"s":1090,"e":1098,"hi":10,"lo":-18},{"s":1125,"e":1180,"hi":8,"lo":-13},{"s":1200,"e":1208,"hi":20,"lo":-6},{"s":1225,"e":1231,"hi":7,"lo":-4},{"s":1245,"e":1253,"hi":6,"lo":-6},{"s":1270,"e":1276,"hi":3,"lo":-5},{"s":1295,"e":1303,"hi":15,"lo":-12},{"s":1320,"e":1326,"hi":8,"lo":-4},{"s":1340,"e":1348,"hi":8,"lo":-6},{"s":1368,"e":1374,"hi":10,"lo":-4},{"s":1395,"e":1403,"hi":20,"lo":-8},{"s":1422,"e":1428,"hi":6,"lo":-7},{"s":1450,"e":1545,"hi":13,"lo":-14},{"s":1490,"e":1498,"hi":22,"lo":-24},{"s":1565,"e":1573,"hi":14,"lo":-15},{"s":1588,"e":1594,"hi":9,"lo":-7},{"s":1605,"e":1613,"hi":15,"lo":-18},{"s":1628,"e":1634,"hi":7,"lo":-8},{"s":1650,"e":1658,"hi":18,"lo":-16},{"s":1675,"e":1681,"hi":6,"lo":-7},{"s":1695,"e":1703,"hi":14,"lo":-10},{"s":1718,"e":1724,"hi":9,"lo":-5},{"s":1740,"e":1748,"hi":22,"lo":-24},{"s":1765,"e":1771,"hi":5,"lo":-8},{"s":1790,"e":1798,"hi":6,"lo":-12},{"s":1812,"e":1818,"hi":10,"lo":-5},{"s":1835,"e":1843,"hi":20,"lo":-16},{"s":1858,"e":1864,"hi":7,"lo":-9},{"s":1880,"e":1888,"hi":16,"lo":-14},{"s":1925,"e":1950,"hi":12,"lo":-12},{"s":1975,"e":1983,"hi":22,"lo":-18},{"s":2000,"e":2006,"hi":8,"lo":-8},{"s":2025,"e":2033,"hi":18,"lo":-15},{"s":2048,"e":2054,"hi":6,"lo":-9},{"s":2070,"e":2078,"hi":20,"lo":-22},{"s":2115,"e":2130,"hi":14,"lo":-12},{"s":2165,"e":2173,"hi":18,"lo":-20},{"s":2210,"e":2225,"hi":15,"lo":-14},{"s":2260,"e":2268,"hi":12,"lo":-18},{"s":2285,"e":2291,"hi":8,"lo":-6},{"s":2305,"e":2313,"hi":18,"lo":-14},{"s":2350,"e":2360,"hi":12,"lo":-16},{"s":2395,"e":2403,"hi":16,"lo":-18},{"s":2440,"e":2470,"hi":12,"lo":-12},{"s":2490,"e":2498,"hi":12,"lo":-16},{"s":2540,"e":2550,"hi":18,"lo":-10},{"s":2585,"e":2595,"hi":10,"lo":-22},{"s":2630,"e":2645,"hi":15,"lo":-12},{"s":2680,"e":2690,"hi":22,"lo":-22},{"s":2725,"e":2740,"hi":14,"lo":-12},{"s":2770,"e":2785,"hi":8,"lo":-14},{"s":2815,"e":2823,"hi":6,"lo":-20},{"s":2860,"e":2875,"hi":18,"lo":-18},{"s":2905,"e":2913,"hi":14,"lo":-14},{"s":2950,"e":2965,"hi":16,"lo":-8},{"s":2995,"e":3005,"hi":18,"lo":-10},{"s":3040,"e":3050,"hi":10,"lo":-20},{"s":3085,"e":3095,"hi":8,"lo":-14},{"s":3130,"e":3145,"hi":10,"lo":-16},{"s":3180,"e":3195,"hi":8,"lo":-10},{"s":3230,"e":3260,"hi":10,"lo":-8},{"s":3275,"e":3285,"hi":32,"lo":-16},{"s":3320,"e":3330,"hi":14,"lo":-18},{"s":3365,"e":3375,"hi":8,"lo":-16},{"s":3410,"e":3420,"hi":4,"lo":-24},{"s":3455,"e":3465,"hi":8,"lo":-18},{"s":3500,"e":3510,"hi":12,"lo":-16},{"s":3545,"e":3555,"hi":22,"lo":-10},{"s":3590,"e":3600,"hi":10,"lo":-18},{"s":3635,"e":3645,"hi":18,"lo":-14},{"s":3680,"e":3690,"hi":12,"lo":-10},{"s":3725,"e":3735,"hi":14,"lo":-22},{"s":3770,"e":3780,"hi":6,"lo":-16},{"s":3815,"e":3825,"hi":10,"lo":-24},{"s":3860,"e":3870,"hi":16,"lo":-16},{"s":3905,"e":3915,"hi":22,"lo":-8},{"s":3950,"e":3960,"hi":22,"lo":-20},{"s":3995,"e":4005,"hi":12,"lo":-24},{"s":4030,"e":4040,"hi":14,"lo":-24},{"s":4070,"e":4078,"hi":38,"lo":-20},{"s":4110,"e":4120,"hi":16,"lo":-22},{"s":4155,"e":4165,"hi":16,"lo":-24},{"s":4200,"e":4210,"hi":20,"lo":-8},{"s":4245,"e":4255,"hi":6,"lo":-16},{"s":4290,"e":4310,"hi":6,"lo":-16},{"s":4340,"e":4350,"hi":8,"lo":-12},{"s":4395,"e":4403,"hi":28,"lo":-16},{"s":4440,"e":4450,"hi":4,"lo":-8},{"s":4485,"e":4500,"hi":8,"lo":-20},{"s":4530,"e":4540,"hi":12,"lo":-22},{"s":4575,"e":4585,"hi":4,"lo":-18},{"s":4620,"e":4630,"hi":24,"lo":-12},{"s":4665,"e":4675,"hi":10,"lo":-20},{"s":4710,"e":4720,"hi":8,"lo":-22},{"s":4755,"e":4765,"hi":14,"lo":-14},{"s":4800,"e":4810,"hi":6,"lo":-26},{"s":4845,"e":4855,"hi":10,"lo":-18},{"s":4890,"e":4900,"hi":18,"lo":-18},{"s":4935,"e":4945,"hi":12,"lo":-12},{"s":4980,"e":4990,"hi":26,"lo":-14},{"s":5025,"e":5035,"hi":14,"lo":-16},{"s":5070,"e":5080,"hi":10,"lo":-24},{"s":5115,"e":5125,"hi":18,"lo":-12},{"s":5160,"e":5170,"hi":12,"lo":-22},{"s":5205,"e":5215,"hi":14,"lo":-16},{"s":5255,"e":5290,"hi":12,"lo":-18},{"s":5305,"e":5315,"hi":22,"lo":-20},{"s":5350,"e":5360,"hi":10,"lo":-10},{"s":5395,"e":5405,"hi":14,"lo":-14},{"s":5440,"e":5470,"hi":8,"lo":-12},{"s":5490,"e":5500,"hi":22,"lo":-14},{"s":5535,"e":5545,"hi":18,"lo":-20},{"s":5580,"e":5590,"hi":20,"lo":-18},{"s":5625,"e":5635,"hi":16,"lo":-12},{"s":5670,"e":5680,"hi":22,"lo":-22},{"s":5715,"e":5725,"hi":8,"lo":-20},{"s":5760,"e":5770,"hi":26,"lo":-10},{"s":5805,"e":5815,"hi":14,"lo":-22},{"s":5850,"e":5860,"hi":28,"lo":-16},{"s":5895,"e":5905,"hi":16,"lo":-14},{"s":5940,"e":5950,"hi":22,"lo":-8},{"s":5985,"e":5995,"hi":14,"lo":-20},{"s":6030,"e":6040,"hi":10,"lo":-22},{"s":6075,"e":6085,"hi":18,"lo":-14},{"s":6120,"e":6130,"hi":26,"lo":-16},{"s":6165,"e":6175,"hi":20,"lo":-22},{"s":6210,"e":6220,"hi":12,"lo":-24},{"s":6255,"e":6265,"hi":14,"lo":-14},{"s":6300,"e":6310,"hi":24,"lo":-18},{"s":6345,"e":6355,"hi":18,"lo":-22},{"s":6390,"e":6400,"hi":20,"lo":-24},{"s":6435,"e":6445,"hi":12,"lo":-8},{"s":6480,"e":6500,"hi":18,"lo":-12},{"s":6525,"e":6535,"hi":26,"lo":-22},{"s":6570,"e":6580,"hi":8,"lo":-8},{"s":6620,"e":6650,"hi":10,"lo":-14},{"s":6690,"e":6700,"hi":24,"lo":-26},{"s":6740,"e":6750,"hi":5,"lo":-8},{"s":6785,"e":6795,"hi":10,"lo":-20},{"s":6830,"e":6845,"hi":14,"lo":-6},{"s":6875,"e":6885,"hi":5,"lo":-16},{"s":6920,"e":6935,"hi":16,"lo":-18},{"s":6965,"e":6975,"hi":4,"lo":-6},{"s":7010,"e":7020,"hi":18,"lo":-16},{"s":7055,"e":7065,"hi":14,"lo":-20},{"s":7100,"e":7110,"hi":10,"lo":-8},{"s":7145,"e":7155,"hi":10,"lo":-18},{"s":7190,"e":7240,"hi":8,"lo":-10},{"s":7260,"e":7270,"hi":22,"lo":-10},{"s":7305,"e":7315,"hi":12,"lo":-18},{"s":7350,"e":7360,"hi":8,"lo":-14},{"s":7395,"e":7405,"hi":6,"lo":-12},{"s":7440,"e":7450,"hi":14,"lo":-16},{"s":7485,"e":7495,"hi":10,"lo":-10},{"s":7530,"e":7540,"hi":14,"lo":-18},{"s":7575,"e":7585,"hi":10,"lo":-16},{"s":7620,"e":7630,"hi":6,"lo":-20},{"s":7665,"e":7675,"hi":12,"lo":-12},{"s":7710,"e":7720,"hi":5,"lo":-16},{"s":7755,"e":7765,"hi":8,"lo":-14},{"s":7800,"e":7815,"hi":3,"lo":-10},{"s":7845,"e":7855,"hi":16,"lo":-8},{"s":7890,"e":7900,"hi":6,"lo":-16},{"s":7935,"e":7950,"hi":8,"lo":-10},{"s":7985,"e":7995,"hi":10,"lo":-8},{"s":8022,"e":8030,"hi":16,"lo":-32},{"s":8085,"e":8093,"hi":12,"lo":-28},{"s":8125,"e":8135,"hi":14,"lo":-8},{"s":8175,"e":8185,"hi":10,"lo":-18},{"s":8215,"e":8225,"hi":14,"lo":-14},{"s":8260,"e":8270,"hi":6,"lo":-10},{"s":8305,"e":8315,"hi":4,"lo":-8},{"s":8360,"e":8368,"hi":12,"lo":-30},{"s":8405,"e":8415,"hi":4,"lo":-10},{"s":8450,"e":8460,"hi":2,"lo":-16},{"s":8495,"e":8505,"hi":4,"lo":-14},{"s":8540,"e":8580,"hi":9,"lo":-6},{"s":8590,"e":8600,"hi":8,"lo":-12},{"s":8635,"e":8645,"hi":14,"lo":-4},{"s":8680,"e":8700,"hi":5,"lo":-16},{"s":8730,"e":8740,"hi":3,"lo":-18},{"s":8775,"e":8785,"hi":16,"lo":-4},{"s":8820,"e":8835,"hi":8,"lo":-22},{"s":8870,"e":8880,"hi":14,"lo":-20},{"s":8915,"e":8925,"hi":6,"lo":-8},{"s":8960,"e":9020,"hi":9,"lo":-13},{"s":9040,"e":9050,"hi":10,"lo":-14},{"s":9085,"e":9095,"hi":8,"lo":-12},{"s":9130,"e":9140,"hi":6,"lo":-16},{"s":9175,"e":9185,"hi":14,"lo":-12},{"s":9220,"e":9230,"hi":5,"lo":-26},{"s":9265,"e":9275,"hi":16,"lo":-10},{"s":9310,"e":9320,"hi":5,"lo":-14},{"s":9355,"e":9365,"hi":14,"lo":-18},{"s":9400,"e":9410,"hi":8,"lo":-8},{"s":9445,"e":9455,"hi":10,"lo":-10},{"s":9490,"e":9500,"hi":12,"lo":-6},{"s":9535,"e":9545,"hi":4,"lo":-16},{"s":9580,"e":9590,"hi":22,"lo":-8},{"s":9620,"e":9650,"hi":8,"lo":-8},{"s":9645,"e":9653,"hi":4,"lo":-30},{"s":9690,"e":9700,"hi":18,"lo":-14},{"s":9735,"e":9745,"hi":10,"lo":-24},{"s":9780,"e":9790,"hi":6,"lo":-18},{"s":9830,"e":9840,"hi":4,"lo":-8},{"s":9860,"e":9910,"hi":14,"lo":-10},{"s":9930,"e":9940,"hi":6,"lo":-12},{"s":9975,"e":9985,"hi":5,"lo":-10},{"s":10020,"e":10030,"hi":8,"lo":-10},{"s":10065,"e":10075,"hi":12,"lo":-8},{"s":10110,"e":10120,"hi":14,"lo":-8},{"s":10155,"e":10165,"hi":10,"lo":-14},{"s":10200,"e":10210,"hi":14,"lo":-10},{"s":10245,"e":10255,"hi":12,"lo":-16},{"s":10290,"e":10300,"hi":18,"lo":-18},{"s":10335,"e":10345,"hi":14,"lo":-20},{"s":10380,"e":10390,"hi":16,"lo":-12},{"s":10425,"e":10435,"hi":14,"lo":-16},{"s":10470,"e":10480,"hi":16,"lo":-22},{"s":10515,"e":10530,"hi":14,"lo":-16},{"s":10560,"e":10570,"hi":12,"lo":-14},{"s":10605,"e":10615,"hi":22,"lo":-14},{"s":10650,"e":10680,"hi":10,"lo":-10},{"s":10700,"e":10710,"hi":20,"lo":-22},{"s":10745,"e":10755,"hi":14,"lo":-14},{"s":10790,"e":10800,"hi":10,"lo":-8},{"s":10835,"e":10845,"hi":18,"lo":-8},{"s":10880,"e":10890,"hi":10,"lo":-14},{"s":10925,"e":10940,"hi":12,"lo":-12},{"s":10970,"e":10980,"hi":8,"lo":-16},{"s":11015,"e":11025,"hi":18,"lo":-10},{"s":11060,"e":11070,"hi":14,"lo":-12},{"s":11105,"e":11115,"hi":8,"lo":-14},{"s":11150,"e":11160,"hi":10,"lo":-16},{"s":11195,"e":11205,"hi":14,"lo":-12},{"s":11240,"e":11250,"hi":12,"lo":-18},{"s":11285,"e":11295,"hi":10,"lo":-16},{"s":11330,"e":11340,"hi":12,"lo":-24},{"s":11375,"e":11385,"hi":10,"lo":-14},{"s":11420,"e":11445,"hi":14,"lo":-10},{"s":11470,"e":11480,"hi":8,"lo":-12},{"s":11515,"e":11535,"hi":16,"lo":-8},{"s":11560,"e":11570,"hi":12,"lo":-12},{"s":11600,"e":11620,"hi":14,"lo":-16},{"s":11650,"e":11660,"hi":14,"lo":-18},{"s":11695,"e":11705,"hi":12,"lo":-10},{"s":11740,"e":11750,"hi":18,"lo":-12},{"s":11785,"e":11810,"hi":10,"lo":-8},{"s":11830,"e":11840,"hi":16,"lo":-14},{"s":11875,"e":11885,"hi":22,"lo":-10},{"s":11920,"e":11930,"hi":14,"lo":-22},{"s":11965,"e":11990,"hi":10,"lo":-8},{"s":12010,"e":12020,"hi":14,"lo":-10},{"s":12055,"e":12065,"hi":18,"lo":-10},{"s":12100,"e":12125,"hi":14,"lo":-6},{"s":12145,"e":12155,"hi":10,"lo":-20},{"s":12190,"e":12210,"hi":12,"lo":-26},{"s":12235,"e":12245,"hi":8,"lo":-16},{"s":12280,"e":12300,"hi":6,"lo":-24},{"s":12330,"e":12340,"hi":10,"lo":-20},{"s":12375,"e":12385,"hi":10,"lo":-12},{"s":12420,"e":12430,"hi":6,"lo":-18},{"s":12465,"e":12490,"hi":12,"lo":-12},{"s":12515,"e":12525,"hi":8,"lo":-18},{"s":12560,"e":12570,"hi":6,"lo":-14},{"s":12605,"e":12615,"hi":22,"lo":-8},{"s":12650,"e":12660,"hi":4,"lo":-14},{"s":12695,"e":12705,"hi":6,"lo":-16},{"s":12740,"e":12750,"hi":8,"lo":-22},{"s":12785,"e":12795,"hi":16,"lo":-10},{"s":12830,"e":12840,"hi":8,"lo":-24},{"s":12875,"e":12900,"hi":14,"lo":-12},{"s":12925,"e":12935,"hi":8,"lo":-16},{"s":12970,"e":12980,"hi":10,"lo":-22},{"s":13015,"e":13035,"hi":14,"lo":-14},{"s":13060,"e":13070,"hi":12,"lo":-16},{"s":13105,"e":13115,"hi":14,"lo":-10},{"s":13150,"e":13175,"hi":10,"lo":-14},{"s":13195,"e":13205,"hi":22,"lo":-18},{"s":13240,"e":13250,"hi":8,"lo":-14},{"s":13285,"e":13295,"hi":16,"lo":-16},{"s":13330,"e":13340,"hi":14,"lo":-10},{"s":13375,"e":13385,"hi":18,"lo":-14},{"s":13420,"e":13430,"hi":8,"lo":-18},{"s":13465,"e":13500,"hi":13,"lo":-12},{"s":13520,"e":13530,"hi":14,"lo":-16},{"s":13565,"e":13575,"hi":12,"lo":-14},{"s":13610,"e":13620,"hi":16,"lo":-18},{"s":13655,"e":13665,"hi":10,"lo":-10},{"s":13700,"e":13710,"hi":22,"lo":-14},{"s":13745,"e":13755,"hi":14,"lo":-16},{"s":13790,"e":13815,"hi":14,"lo":-14},{"s":13835,"e":13845,"hi":24,"lo":-8},{"s":13880,"e":13890,"hi":24,"lo":-10},{"s":13925,"e":13935,"hi":22,"lo":-12},{"s":13970,"e":13980,"hi":10,"lo":-14},{"s":14015,"e":14040,"hi":12,"lo":-16},{"s":14060,"e":14070,"hi":14,"lo":-20},{"s":14105,"e":14115,"hi":12,"lo":-22},{"s":14150,"e":14175,"hi":14,"lo":-16},{"s":14195,"e":14205,"hi":10,"lo":-18},{"s":14240,"e":14250,"hi":8,"lo":-16},{"s":14285,"e":14295,"hi":16,"lo":-20},{"s":14330,"e":14340,"hi":6,"lo":-22},{"s":14375,"e":14385,"hi":14,"lo":-18},{"s":14420,"e":14430,"hi":10,"lo":-22},{"s":14465,"e":14485,"hi":12,"lo":-12},{"s":14510,"e":14520,"hi":20,"lo":-14},{"s":14555,"e":14565,"hi":14,"lo":-20},{"s":14600,"e":14610,"hi":18,"lo":-10},{"s":14645,"e":14655,"hi":16,"lo":-22},{"s":14690,"e":14700,"hi":14,"lo":-12},{"s":14735,"e":14745,"hi":20,"lo":-18},{"s":14780,"e":14790,"hi":16,"lo":-24},{"s":14825,"e":14840,"hi":12,"lo":-10},{"s":14870,"e":14880,"hi":16,"lo":-20},{"s":14915,"e":14925,"hi":14,"lo":-8},{"s":14960,"e":14970,"hi":8,"lo":-14},{"s":15005,"e":15015,"hi":16,"lo":-6},{"s":15050,"e":15060,"hi":8,"lo":-24},{"s":15095,"e":15105,"hi":12,"lo":-10},{"s":15140,"e":15150,"hi":20,"lo":-8},{"s":15185,"e":15195,"hi":18,"lo":-24},{"s":15230,"e":15240,"hi":10,"lo":-10},{"s":15275,"e":15285,"hi":14,"lo":-6},{"s":15320,"e":15330,"hi":6,"lo":-14},{"s":15365,"e":15375,"hi":12,"lo":-6},{"s":15395,"e":15415,"hi":16,"lo":-8},{"s":15445,"e":15455,"hi":6,"lo":-14},{"s":15490,"e":15500,"hi":14,"lo":-12},{"s":15535,"e":15545,"hi":8,"lo":-4},{"s":15580,"e":15595,"hi":14,"lo":-14},{"s":15625,"e":15635,"hi":6,"lo":-4},{"s":15670,"e":15680,"hi":20,"lo":-6},{"s":15710,"e":15740,"hi":10,"lo":-7},{"s":15760,"e":15770,"hi":5,"lo":-8},{"s":15805,"e":15815,"hi":4,"lo":-4},{"s":15850,"e":15860,"hi":4,"lo":-6},{"s":15895,"e":15905,"hi":12,"lo":-4},{"s":15940,"e":15950,"hi":10,"lo":-8},{"s":15985,"e":15995,"hi":6,"lo":-8},{"s":16030,"e":16040,"hi":10,"lo":-4},{"s":16075,"e":16085,"hi":3,"lo":-10},{"s":16120,"e":16130,"hi":8,"lo":-8},{"s":16165,"e":16175,"hi":8,"lo":-6},{"s":16195,"e":16285,"hi":9,"lo":-6},{"s":16300,"e":16308,"hi":25,"lo":-6},{"s":16340,"e":16350,"hi":4,"lo":-16},{"s":16385,"e":16395,"hi":4,"lo":-14},{"s":16430,"e":16440,"hi":3,"lo":-18},{"s":16475,"e":16485,"hi":3,"lo":-20},{"s":16515,"e":16525,"hi":3,"lo":-14}
],
"kbp":[{"t":"1 kbp","x":716,"y":293},{"t":"2 kbp","x":806,"y":352},{"t":"3 kbp","x":864,"y":441},{"t":"4 kbp","x":882,"y":548},{"t":"5 kbp","x":874,"y":657},{"t":"6 kbp","x":825,"y":753},{"t":"7 kbp","x":742,"y":821},{"t":"8 kbp","x":636,"y":853},{"t":"9 kbp","x":524,"y":843},{"t":"10 kbp","x":429,"y":794},{"t":"11 kbp","x":361,"y":711},{"t":"12 kbp","x":333,"y":608},{"t":"13 kbp","x":335,"y":498},{"t":"14 kbp","x":372,"y":397},{"t":"15 kbp","x":445,"y":320},{"t":"16 kbp","x":546,"y":278}],
"title":[{"t":"Lycalopex vetulus","x":604,"y":557},{"t":"16536 bp","x":604,"y":593}],
"genes":[{"t":"12S rRNA","x":718,"y":22,"a":716,"b":26,"c":711,"d":57},{"t":"tRNA-Val","x":821,"y":54,"a":820,"b":62,"c":807,"d":86},{"t":"16S rRNA","x":994,"y":149,"a":960,"b":156,"c":945,"d":172},{"t":"tRNA-Leu","x":1103,"y":280,"a":1070,"b":285,"c":1049,"d":297},{"t":"ND1","x":1132,"y":377,"a":1115,"b":380,"c":1094,"d":389},{"t":"tRNA-Ile","x":1171,"y":481,"a":1145,"b":484,"c":1118,"d":490},{"t":"tRNA-Gln","x":1176,"y":495,"a":1146,"b":497,"c":1117,"d":500},{"t":"tRNA-Met","x":1179,"y":510,"a":1149,"b":512,"c":1120,"d":514},{"t":"ND2","x":1161,"y":625,"a":1148,"b":626,"c":1121,"d":624},{"t":"tRNA-Trp","x":1153,"y":734,"a":1122,"b":735,"c":1090,"d":731},{"t":"tRNA-Ala","x":1145,"y":753,"a":1116,"b":754,"c":1090,"d":746},{"t":"tRNA-Asn","x":1141,"y":767,"a":1112,"b":766,"c":1085,"d":755},{"t":"tRNA-Cys","x":1134,"y":788,"a":1103,"b":790,"c":1077,"d":778},{"t":"tRNA-Tyr","x":1124,"y":806,"a":1095,"b":807,"c":1072,"d":791},{"t":"COXI","x":1019,"y":938,"a":1002,"b":940,"c":983,"d":922},{"t":"tRNA-Ser","x":905,"y":1037,"a":877,"b":1040,"c":858,"d":1020},{"t":"tRNA-Asp","x":883,"y":1051,"a":854,"b":1048,"c":842,"d":1020},{"t":"COXII","x":788,"y":1084,"a":783,"b":1077,"c":775,"d":1053},{"t":"tRNA-Lys","x":729,"y":1103,"a":724,"b":1096,"c":702,"d":1076},{"t":"COXIII","x":447,"y":1092,"a":452,"b":1084,"c":462,"d":1057},{"t":"tRNA-Gly","x":335,"y":1056,"a":366,"b":1060,"c":377,"d":1033},{"t":"ND3","x":314,"y":1034,"a":328,"b":1033,"c":340,"d":1013},{"t":"tRNA-Arg","x":261,"y":1012,"a":291,"b":1012,"c":306,"d":992},{"t":"ND4L","x":243,"y":988,"a":262,"b":985,"c":276,"d":967},{"t":"ND4","x":132,"y":860,"a":150,"b":860,"c":168,"d":848},{"t":"tRNA-His","x":54,"y":729,"a":84,"b":732,"c":107,"d":719},{"t":"tRNA-Ser","x":47,"y":711,"a":79,"b":711,"c":103,"d":705},{"t":"tRNA-Leu","x":43,"y":693,"a":78,"b":694,"c":102,"d":694},{"t":"ND5","x":47,"y":503,"a":64,"b":505,"c":88,"d":509},{"t":"ND6","x":125,"y":277,"a":140,"b":282,"c":160,"d":294},{"t":"tRNA-Glu","x":144,"y":227,"a":175,"b":232,"c":193,"d":245},{"t":"Cytb","x":248,"y":138,"a":262,"b":140,"c":279,"d":161},{"t":"tRNA-Thr","x":333,"y":72,"a":365,"b":78,"c":380,"d":97},{"t":"tRNA-Pro","x":382,"y":56,"a":385,"b":62,"c":392,"d":93},{"t":"D-loop","x":492,"y":21,"a":495,"b":28,"c":500,"d":60}],
"swatches":[{"k":"GC Content","y":31.5},{"k":"CG Skew(-)","y":103},{"k":"CG Skew(+)","y":138},{"k":"L100","y":209},{"k":"L70","y":245},{"k":"L50","y":280},{"k":"C100","y":351},{"k":"C70","y":387},{"k":"C50","y":422},{"k":"T100","y":493},{"k":"T70","y":528},{"k":"T50","y":564},{"k":"B100","y":635},{"k":"B70","y":670},{"k":"B50","y":706}],
"heads":[{"t":"CG Skew","y":67},{"t":"Lycalopex vetulus","y":174},{"t":"Cerdocyon thous","y":316},{"t":"Tayassu pecari","y":458},{"t":"Tadarida brasilienses","y":600}],
"items":[{"t":"100% identity","y":212},{"t":"70% identity","y":248},{"t":"50% identity","y":283},{"t":"100% identity","y":354},{"t":"70% identity","y":390},{"t":"50% identity","y":425},{"t":"100% identity","y":496},{"t":"70% identity","y":531},{"t":"50% identity","y":567},{"t":"100% identity","y":638},{"t":"70% identity","y":673},{"t":"50% identity","y":708}],
"items2":[{"t":"CG Skew(-)","y":105.5},{"t":"CG Skew(+)","y":141}],
"gcl":[{"t":"GC Content","y":32}]
},
"layer":[
{"data":{"name":"rings"},
"encoding":{"x":{"datum":604.2,"type":"quantitative","scale":{"domain":[0,1568],"range":[0,2663]},"axis":null},"y":{"datum":565,"type":"quantitative","scale":{"domain":[0,1123],"range":[0,1907]},"axis":null},"theta":{"field":"s","type":"quantitative","scale":{"domain":[0,16536],"range":[0,6.283185]},"stack":null},"theta2":{"field":"e"}},
"resolve":{"scale":{"radius":"independent"}},
"layer":[
{"transform":[{"filter":"datum.g=='L'"}],"mark":{"type":"arc","color":"#3f3fa6"},"encoding":{"radius":{"value":746},"radius2":{"value":741}}},
{"transform":[{"filter":"datum.g=='L'"}],"mark":{"type":"arc","color":"#7f7fdf"},"encoding":{"radius":{"value":767},"radius2":{"value":745.5}}},
{"transform":[{"filter":"datum.g=='L'"}],"mark":{"type":"arc","color":"#aaaae9"},"encoding":{"radius":{"value":771},"radius2":{"value":766.5}}},
{"transform":[{"filter":"datum.g=='C'"}],"mark":{"type":"arc","color":"#5f9f6f"},"encoding":{"radius":{"value":777},"radius2":{"value":772}}},
{"transform":[{"filter":"datum.g=='C'"}],"mark":{"type":"arc","color":"#8fe08f"},"encoding":{"radius":{"value":799},"radius2":{"value":776.5}}},
{"transform":[{"filter":"datum.g=='C'"}],"mark":{"type":"arc","color":"#b8edb8"},"encoding":{"radius":{"value":803},"radius2":{"value":798.5}}},
{"transform":[{"filter":"datum.g=='T'"}],"mark":{"type":"arc","color":"#9f8a68"},"encoding":{"radius":{"value":811},"radius2":{"value":806}}},
{"transform":[{"filter":"datum.g=='T'"}],"mark":{"type":"arc","color":"#e0c48f"},"encoding":{"radius":{"value":830},"radius2":{"value":810.5}}},
{"transform":[{"filter":"datum.g=='T'"}],"mark":{"type":"arc","color":"#ecdaba"},"encoding":{"radius":{"value":834},"radius2":{"value":829.5}}},
{"transform":[{"filter":"datum.g=='B'"}],"mark":{"type":"arc","color":"#9b74a0"},"encoding":{"radius":{"value":844},"radius2":{"value":840}}},
{"transform":[{"filter":"datum.g=='B'"}],"mark":{"type":"arc","color":"#dfa8df"},"encoding":{"radius":{"value":862},"radius2":{"value":843.5}}},
{"transform":[{"filter":"datum.g=='B'"}],"mark":{"type":"arc","color":"#ebc8eb"},"encoding":{"radius":{"value":866},"radius2":{"value":861.5}}},
{"data":{"name":"strong"},"transform":[{"filter":"datum.g=='T'"}],"mark":{"type":"arc","color":"#dfaf3f"},"encoding":{"radius":{"value":834},"radius2":{"value":806}}},
{"data":{"name":"strong"},"transform":[{"filter":"datum.g=='B'"}],"mark":{"type":"arc","color":"#df7fdf"},"encoding":{"radius":{"value":866},"radius2":{"value":844}}},
{"data":{"name":"backbone"},"mark":{"type":"arc","color":"#000000"},"encoding":{"radius":{"value":563},"radius2":{"value":559}}},
{"data":{"name":"ticks"},"transform":[{"filter":"datum.k==0"}],"mark":{"type":"arc","color":"#555555"},"encoding":{"radius":{"value":875},"radius2":{"value":872}}},
{"data":{"name":"ticks"},"transform":[{"filter":"datum.k==1"}],"mark":{"type":"arc","color":"#444444"},"encoding":{"radius":{"value":876},"radius2":{"value":870}}},
{"data":{"name":"ticks"},"transform":[{"filter":"datum.k==0"}],"mark":{"type":"arc","color":"#888888"},"encoding":{"radius":{"value":554},"radius2":{"value":551}}},
{"data":{"name":"ticks"},"transform":[{"filter":"datum.k==1"}],"mark":{"type":"arc","color":"#555555"},"encoding":{"radius":{"value":554},"radius2":{"value":547}}},
{"data":{"name":"gc"},"mark":{"type":"arc","color":"#000000"},"encoding":{"radius":{"field":"hi","type":"quantitative","scale":{"domain":[-40,40],"range":[566,646],"nice":false,"zero":false}},"radius2":{"field":"lo"}}},
{"data":{"name":"skew"},"mark":{"type":"arc"},"encoding":{"radius":{"field":"v","type":"quantitative","scale":{"domain":[-23,42],"range":[719,654],"nice":false,"zero":false}},"radius2":{"datum":0},"color":{"condition":{"test":"datum.v<0","value":"#990099"},"value":"#009900"}}}
]},
{"data":{"name":"genes"},"mark":{"type":"rule","color":"#ff6a6a","strokeWidth":1.2},"encoding":{"x":{"field":"a","type":"quantitative","scale":{"domain":[0,1568],"range":[0,2663]},"axis":null},"y":{"field":"b","type":"quantitative","scale":{"domain":[0,1123],"range":[0,1907]},"axis":null},"x2":{"field":"c"},"y2":{"field":"d"}}},
{"data":{"name":"genes"},"mark":{"type":"text","font":"Liberation Sans","fontSize":23,"dy":1.5,"color":"#ff2a2a"},"encoding":{"x":{"field":"x","type":"quantitative","scale":{"domain":[0,1568],"range":[0,2663]},"axis":null},"y":{"field":"y","type":"quantitative","scale":{"domain":[0,1123],"range":[0,1907]},"axis":null},"text":{"field":"t"}}},
{"data":{"name":"kbp"},"mark":{"type":"text","font":"Liberation Sans","fontSize":32,"dy":1.5,"fontStyle":"italic","color":"#222222"},"encoding":{"x":{"field":"x","type":"quantitative","scale":{"domain":[0,1568],"range":[0,2663]},"axis":null},"y":{"field":"y","type":"quantitative","scale":{"domain":[0,1123],"range":[0,1907]},"axis":null},"text":{"field":"t"}}},
{"data":{"name":"title"},"mark":{"type":"text","font":"Liberation Sans","fontSize":42.3,"dy":1.5,"fontStyle":"italic","color":"#222222"},"encoding":{"x":{"field":"x","type":"quantitative","scale":{"domain":[0,1568],"range":[0,2663]},"axis":null},"y":{"field":"y","type":"quantitative","scale":{"domain":[0,1123],"range":[0,1907]},"axis":null},"text":{"field":"t"}}},
{"data":{"name":"swatches"},"mark":{"type":"square","size":1681,"filled":true,"opacity":1},"encoding":{"x":{"datum":1393.5,"type":"quantitative","scale":{"domain":[0,1568],"range":[0,2663]},"axis":null},"y":{"field":"y","type":"quantitative","scale":{"domain":[0,1123],"range":[0,1907]},"axis":null},"color":{"field":"k","type":"nominal","legend":null,"scale":{"domain":["GC Content","CG Skew(-)","CG Skew(+)","L100","L70","L50","C100","C70","C50","T100","T70","T50","B100","B70","B50"],"range":["#000000","#990099","#009900","#7f7fdf","#b6b6df","#dfdfdf","#7fdf7f","#b6dfb6","#dfdfdf","#dfaf4f","#dfcaa0","#dfdfdf","#df7fdf","#dfb6df","#dfdfdf"]}}}},
{"data":{"name":"heads"},"mark":{"type":"text","font":"Liberation Sans","fontSize":32.8,"dy":1.5,"fontStyle":"italic","align":"left","color":"#333333"},"encoding":{"x":{"datum":1381,"type":"quantitative","scale":{"domain":[0,1568],"range":[0,2663]},"axis":null},"y":{"field":"y","type":"quantitative","scale":{"domain":[0,1123],"range":[0,1907]},"axis":null},"text":{"field":"t"}}},
{"data":{"name":"gcl"},"mark":{"type":"text","font":"Liberation Sans","fontSize":32,"dy":1.5,"align":"left","color":"#333333"},"encoding":{"x":{"datum":1417.5,"type":"quantitative","scale":{"domain":[0,1568],"range":[0,2663]},"axis":null},"y":{"field":"y","type":"quantitative","scale":{"domain":[0,1123],"range":[0,1907]},"axis":null},"text":{"field":"t"}}},
{"data":{"name":"items2"},"mark":{"type":"text","font":"Liberation Sans","fontSize":24,"dy":1.5,"align":"left","color":"#444444"},"encoding":{"x":{"datum":1417.5,"type":"quantitative","scale":{"domain":[0,1568],"range":[0,2663]},"axis":null},"y":{"field":"y","type":"quantitative","scale":{"domain":[0,1123],"range":[0,1907]},"axis":null},"text":{"field":"t"}}},
{"data":{"name":"items"},"mark":{"type":"text","font":"Liberation Sans","fontSize":24,"dy":1.5,"fontStyle":"italic","align":"left","color":"#444444"},"encoding":{"x":{"datum":1418,"type":"quantitative","scale":{"domain":[0,1568],"range":[0,2663]},"axis":null},"y":{"field":"y","type":"quantitative","scale":{"domain":[0,1123],"range":[0,1907]},"axis":null},"text":{"field":"t"}}}
]}
